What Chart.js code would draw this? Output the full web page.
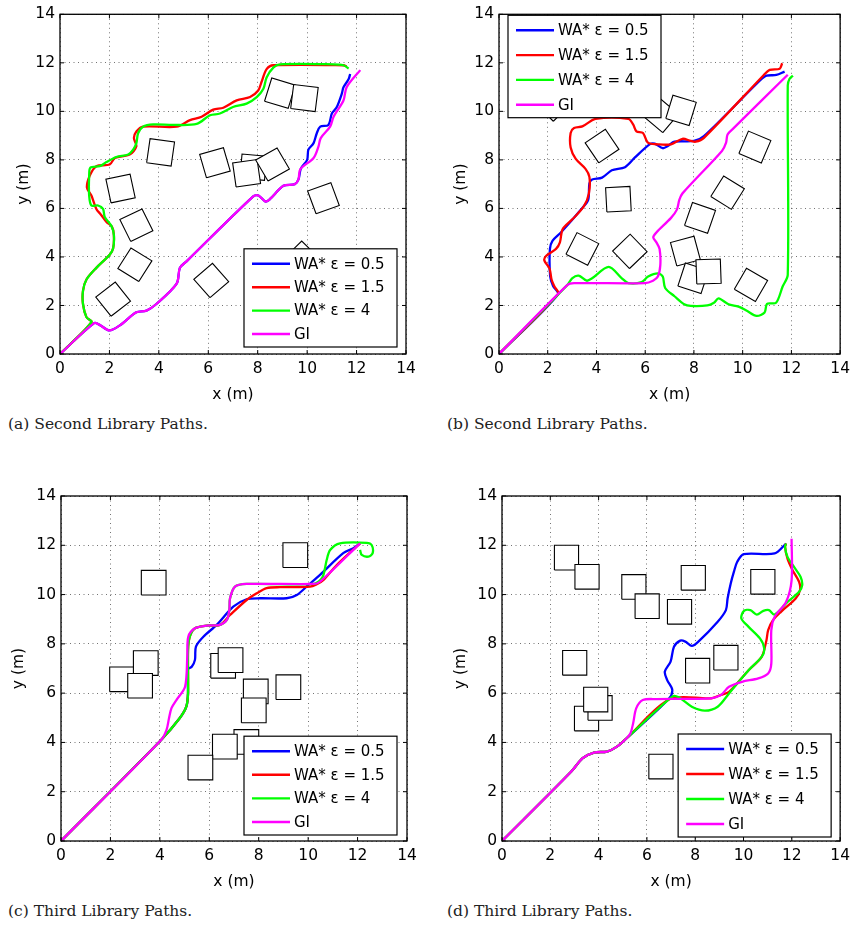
<!DOCTYPE html>
<html>
<head>
<meta charset="utf-8">
<script src="https://cdn.jsdelivr.net/npm/chart.js@4"></script>
<style>
  body { margin: 0; background: #fff; width: 856px; height: 928px; position: relative; overflow: hidden; }
  .panel { position: absolute; }
  .caption { position: absolute; font-family: "DejaVu Serif", "Liberation Serif", serif; font-size: 15.5px; color: #222; white-space: nowrap; }
</style>
</head>
<body>
<div class="panel" style="left:0px;top:0px"><canvas id="chart-a" width="428" height="405"></canvas></div>
<div class="panel" style="left:439px;top:0px"><canvas id="chart-b" width="417" height="405"></canvas></div>
<div class="panel" style="left:1px;top:480px"><canvas id="chart-c" width="427" height="412"></canvas></div>
<div class="panel" style="left:442px;top:480px"><canvas id="chart-d" width="414" height="412"></canvas></div>
<div class="caption" style="left:8px;top:415px">(a) Second Library Paths.</div>
<div class="caption" style="left:447px;top:415px">(b) Second Library Paths.</div>
<div class="caption" style="left:8px;top:902px">(c) Third Library Paths.</div>
<div class="caption" style="left:447px;top:902px">(d) Third Library Paths.</div>
<script>
// axis ticks (metres)
const tickValues = [0, 2, 4, 6, 8, 10, 12, 14]
const seriesLabels = ["WA* ε = 0.5", "WA* ε = 1.5", "WA* ε = 4", "GI"]
const seriesColors = ["#0000ff", "#ff0000", "#00ff00", "#ff00ff"]
const OBSTACLE_SIDE = 1

// (a) second library, map 1 -- paths as [x, y] in metres
const aBlue = [[0,0],[1.38,1.27],[1.6,1.2],[2.0,0.97],[2.42,1.18],[3.09,1.72],[3.5,1.79],[3.9,2.06],[4.72,2.9],[4.85,3.55],[5.12,3.82],[7.82,6.5],[8.03,6.53],[8.32,6.28],[8.5,6.39],[9.04,6.93],[9.5,7.0],[9.65,7.2],[9.75,7.65],[10.0,8.0],[10.05,8.42],[10.26,8.69],[10.39,9.1],[10.53,9.37],[10.86,9.44],[11.0,9.91],[11.2,10.18],[11.4,10.72],[11.47,10.99],[11.68,11.33],[11.74,11.54]]
const aRed = [[0,0],[1.27,1.31],[1.07,1.52],[0.93,2.06],[0.93,2.6],[1.07,3.07],[1.47,3.55],[2.01,4.09],[2.15,4.36],[2.18,4.9],[2.1,5.25],[1.88,5.44],[1.65,5.75],[1.47,5.98],[1.27,6.53],[1.09,6.86],[1.2,7.34],[1.47,7.74],[2.01,7.81],[2.22,8.08],[2.82,8.22],[3.09,8.56],[2.99,8.9],[3.09,9.17],[3.36,9.37],[4.72,9.37],[5.26,9.64],[5.73,9.78],[6.2,10.07],[6.61,10.15],[7.15,10.45],[7.69,10.59],[8.02,10.86],[8.15,11.2],[8.36,11.74],[8.64,11.9],[11.47,11.9],[11.6,11.85]]
const aGreen = [[0,0],[1.27,1.31],[1.07,1.52],[0.93,2.06],[0.93,2.6],[1.07,3.07],[1.47,3.55],[2.01,4.09],[2.15,4.36],[2.18,4.9],[2.08,5.28],[1.81,5.65],[1.74,5.98],[1.54,6.12],[1.27,6.12],[1.18,6.53],[1.18,7.34],[1.23,7.68],[1.61,7.74],[1.88,7.91],[2.28,8.12],[2.76,8.22],[2.96,8.42],[3.09,8.69],[3.16,9.1],[3.36,9.37],[3.77,9.46],[4.58,9.44],[5.53,9.48],[6.07,9.84],[6.47,9.91],[7.0,10.18],[7.55,10.32],[7.96,10.59],[8.23,10.93],[8.36,11.4],[8.64,11.81],[8.9,11.94],[11.07,11.94],[11.47,11.9],[11.68,11.77]]
const aGI = [[0,0],[1.38,1.27],[1.6,1.2],[2.0,0.97],[2.42,1.18],[3.09,1.72],[3.5,1.79],[3.9,2.06],[4.72,2.9],[4.85,3.55],[5.12,3.82],[7.82,6.5],[8.03,6.53],[8.32,6.28],[8.5,6.39],[9.04,6.93],[9.5,7.0],[9.65,7.2],[9.72,7.61],[10.26,8.08],[10.46,8.56],[10.55,8.9],[10.93,9.37],[11.07,9.78],[11.47,10.45],[11.6,11.0],[12.15,11.7]]
// obstacles: [centre x, centre y, rotation in degrees], back to front
const aObstacles = [[9.78,3.95,45],[2.15,2.26,38],[3.03,3.68,58],[3.09,5.31,26],[2.45,6.82,12],[4.07,8.31,-8],[6.27,7.88,16],[7.82,7.7,-5],[7.55,7.45,8],[8.6,7.81,30],[8.9,10.75,-17],[9.89,10.55,-7],[10.66,6.42,20],[6.12,3.03,41]]

// (b) second library, map 2
const bBlue = [[0,0],[2.42,2.45],[2.22,2.8],[2.1,3.2],[2.09,4.33],[2.2,4.67],[2.54,5.01],[3.42,6.02],[3.66,6.35],[3.71,7.03],[3.82,7.19],[4.23,7.27],[4.63,7.57],[5.17,7.7],[5.58,8.1],[6.18,8.64],[6.39,8.67],[6.72,8.48],[6.93,8.57],[7.2,8.75],[8.0,8.78],[8.41,8.98],[10.71,11.27],[10.98,11.47],[11.38,11.5],[11.72,11.64]]
const bRed = [[0,0],[2.43,2.48],[2.27,2.79],[2.16,3.06],[2.07,3.53],[1.86,3.86],[1.93,4.04],[2.34,4.33],[2.5,4.6],[2.61,5.14],[3.01,5.55],[3.48,6.08],[3.69,6.62],[3.71,7.3],[3.55,7.63],[3.15,8.04],[2.94,8.51],[2.94,9.11],[3.08,9.31],[3.42,9.38],[3.96,9.69],[5.31,9.69],[5.51,9.45],[5.64,9.18],[5.91,9.11],[6.11,8.71],[6.52,8.64],[7.06,8.64],[7.53,8.87],[7.87,8.78],[8.07,8.75],[8.41,8.91],[10.84,11.47],[11.11,11.71],[11.52,11.76],[11.62,11.98]]
const bGreen = [[0,0],[2.81,2.85],[3.0,3.12],[3.27,3.23],[3.6,3.02],[3.82,3.12],[4.5,3.59],[5.04,3.12],[5.31,2.92],[5.85,2.96],[6.12,3.19],[6.52,3.32],[6.72,3.19],[6.82,2.72],[7.2,2.38],[7.6,2.05],[7.87,1.98],[8.55,2.0],[8.82,2.11],[9.01,2.29],[9.42,2.05],[9.83,1.95],[10.17,1.78],[10.57,1.57],[10.9,1.71],[11.0,2.07],[11.37,2.11],[11.64,2.78],[11.85,3.26],[11.85,11.07],[11.92,11.33],[12.06,11.47]]
const bGI = [[0,0],[2.81,2.85],[3.08,2.92],[5.98,2.92],[6.32,3.02],[6.52,3.19],[6.62,3.66],[6.59,4.33],[6.46,4.6],[6.33,4.81],[6.46,5.01],[7.06,5.61],[7.3,5.95],[7.4,6.35],[7.53,6.62],[9.15,8.37],[9.32,8.71],[9.38,9.05],[9.63,9.31],[11.85,11.51]]
const bObstacles = [[2.23,10.3,45],[6.66,9.83,50],[7.47,10.04,-17],[4.23,8.57,34],[4.9,6.38,3],[3.42,4.33,-27],[5.37,4.23,44],[8.25,5.61,-19],[9.38,6.65,-32],[10.5,8.53,-23],[7.65,4.24,15],[7.97,3.12,-18],[8.6,3.4,2],[10.34,2.85,-30]]

// (c) third library, map 1
const cBlue = [[0,0],[4.05,4.1],[4.8,4.98],[5.07,5.45],[5.14,6.0],[5.12,6.95],[5.29,7.07],[5.42,7.35],[5.46,7.89],[5.76,8.29],[6.3,8.77],[6.97,9.51],[7.51,9.81],[8.05,9.85],[9.13,9.85],[9.54,9.98],[10.01,10.39],[10.48,10.8],[11.42,11.68],[11.83,11.88],[12.1,12.08]]
const cRed = [[0,0],[4.05,4.1],[4.8,4.98],[5.07,5.45],[5.14,6.0],[5.14,7.75],[5.21,8.29],[5.42,8.63],[5.9,8.74],[6.43,8.77],[6.84,9.17],[7.51,9.78],[7.92,10.05],[8.32,10.26],[8.86,10.3],[10.08,10.32],[10.35,10.42],[10.61,10.58],[11.15,11.19],[12.1,12.08]]
const cGreen = [[0,0],[4.05,4.1],[4.8,4.98],[5.07,5.45],[5.14,6.0],[5.14,7.75],[5.21,8.29],[5.42,8.63],[5.9,8.74],[6.43,8.77],[6.71,8.97],[6.81,9.38],[6.84,9.85],[7.04,10.32],[7.51,10.43],[10.21,10.43],[10.5,10.6],[10.62,10.8],[10.75,11.4],[10.89,11.81],[11.29,12.08],[12.37,12.1],[12.57,12.01],[12.61,11.68],[12.44,11.54],[12.17,11.61],[12.1,11.81]]
const cGI = [[0,0],[4.05,4.1],[4.27,4.51],[4.37,4.98],[4.47,5.39],[4.67,5.72],[5.02,6.26],[5.11,7.48],[5.15,8.29],[5.42,8.63],[5.9,8.74],[6.43,8.77],[6.71,8.97],[6.81,9.38],[6.84,9.85],[7.04,10.32],[7.51,10.43],[10.21,10.43],[10.48,10.52],[12.1,12.08]]
const cObstacles = [[3.75,10.48,0],[9.48,11.6,0],[2.47,6.56,0],[3.43,7.22,0],[3.2,6.3,0],[6.56,7.11,0],[6.86,7.34,0],[7.88,6.07,0],[7.8,5.3,0],[9.2,6.24,0],[7.5,4.02,0],[6.63,3.83,0],[5.64,2.98,0]]

// (d) third library, map 2
const dBlue = [[0,0],[2.87,2.82],[3.34,3.36],[3.81,3.59],[4.35,3.63],[4.76,3.83],[5.16,4.17],[6.9,5.76],[7.05,6.13],[6.84,6.53],[6.74,6.87],[6.98,7.28],[7.12,7.88],[7.38,8.13],[7.59,8.09],[7.86,7.92],[8.13,8.09],[8.93,8.9],[9.27,9.37],[9.34,9.84],[9.47,10.45],[9.6,10.92],[9.74,11.33],[10.01,11.64],[11.29,11.67],[11.76,12.07]]
const dRed = [[0,0],[2.87,2.82],[3.34,3.36],[3.81,3.59],[4.35,3.63],[4.76,3.83],[5.16,4.17],[6.95,5.76],[8.66,5.79],[9.07,5.93],[9.4,6.05],[10.21,6.93],[10.75,7.47],[10.95,8.15],[11.02,8.56],[11.22,8.96],[11.55,9.3],[12.16,9.84],[12.34,10.18],[12.3,10.52],[12.03,10.99],[11.82,11.46],[11.72,11.93],[11.76,12.07]]
const dGreen = [[0,0],[2.87,2.82],[3.34,3.36],[3.81,3.59],[4.35,3.63],[4.76,3.83],[5.16,4.17],[7.05,5.86],[7.32,5.83],[7.86,5.45],[8.4,5.29],[8.93,5.45],[9.4,5.99],[10.21,6.93],[10.75,7.47],[10.86,7.81],[10.68,8.22],[10.21,8.69],[9.91,9.03],[10.01,9.33],[10.28,9.37],[10.55,9.19],[10.82,9.34],[11.05,9.37],[11.29,9.19],[11.82,9.7],[12.3,10.11],[12.43,10.38],[12.36,10.72],[12.09,11.12],[11.82,11.53],[11.72,11.93],[11.76,12.07]]
const dGI = [[0,0],[2.87,2.82],[3.34,3.36],[3.81,3.59],[4.35,3.63],[4.76,3.83],[5.16,4.17],[5.32,4.37],[5.43,4.78],[5.56,5.39],[5.83,5.72],[6.37,5.76],[8.66,5.79],[9.07,5.93],[9.4,6.26],[9.94,6.46],[10.61,6.6],[11.02,6.8],[11.15,7.2],[11.15,8.56],[11.29,9.1],[11.76,9.7],[11.99,10.58],[11.99,12.27]]
const dObstacles = [[2.67,11.5,0],[3.52,10.72,0],[5.46,10.31,0],[6.01,9.53,0],[7.92,10.68,0],[7.35,9.3,0],[10.8,10.52,0],[3.01,7.23,0],[9.27,7.44,0],[8.1,6.91,0],[3.5,4.97,0],[4.06,5.4,0],[3.88,5.74,0],[6.58,3.02,0]]

const FONT = "'DejaVu Sans', 'Liberation Sans', Arial, sans-serif"

const toPoints = (arr) => arr.map(([x, y]) => ({ x, y }))

function squareCorners([cx, cy, deg]) {
    const r = deg * Math.PI / 180
    const h = OBSTACLE_SIDE / 2
    const c = Math.cos(r), s = Math.sin(r)
    return [[-h, -h], [h, -h], [h, h], [-h, h], [-h, -h]]
        .map(([u, v]) => ({ x: cx + u * c - v * s, y: cy + u * s + v * c }))
}

// box, inward tick marks and the legend drawn inside the axes
const framePlugin = {
    id: "frame",
    afterDatasetsDraw(chart) {
        const { ctx, chartArea: a, scales: { x, y } } = chart
        ctx.save()
        ctx.strokeStyle = "#000"
        ctx.lineWidth = 1
        ctx.beginPath()
        tickValues.forEach(v => {
            const px = x.getPixelForValue(v)
            const py = y.getPixelForValue(v)
            ctx.moveTo(px, a.bottom); ctx.lineTo(px, a.bottom - 4)
            ctx.moveTo(px, a.top); ctx.lineTo(px, a.top + 4)
            ctx.moveTo(a.left, py); ctx.lineTo(a.left + 4, py)
            ctx.moveTo(a.right, py); ctx.lineTo(a.right - 4, py)
        })
        ctx.stroke()
        ctx.lineWidth = 1.3
        ctx.strokeRect(a.left, a.top, a.right - a.left, a.bottom - a.top)
        ctx.restore()
    },
    afterDraw(chart, args, opts) {
        const { ctx, chartArea: a } = chart
        const w = 153
        const h = 28 + 3 * opts.gap
        const left = opts.corner === "tl" ? a.left + opts.dx : a.right - opts.dx - w
        const top = opts.corner === "tl" ? a.top + opts.dy : a.bottom - opts.dy - h
        ctx.save()
        ctx.fillStyle = "#fff"
        ctx.fillRect(left, top, w, h)
        ctx.strokeStyle = "#000"
        ctx.lineWidth = 1.2
        ctx.strokeRect(left, top, w, h)
        ctx.font = "15px " + FONT
        ctx.textBaseline = "middle"
        ctx.fillStyle = "#000"
        seriesLabels.forEach((label, i) => {
            const rowY = top + 15 + i * opts.gap
            ctx.strokeStyle = seriesColors[i]
            ctx.lineWidth = 2.4
            ctx.beginPath()
            ctx.moveTo(left + 8, rowY)
            ctx.lineTo(left + 46, rowY)
            ctx.stroke()
            ctx.fillText(label, left + 50, rowY + 1)
        })
        ctx.restore()
    }
}

function makeChart(canvasId, paths, obstacles, panel) {
    const pathSets = paths.map((p, i) => ({
        label: seriesLabels[i],
        data: toPoints(p),
        borderColor: seriesColors[i],
        borderWidth: 2.3,
        tension: 0.3,
        pointRadius: 0,
        fill: false,
        order: 3 - i
    }))
    const obstacleSets = obstacles.map((o, i) => ({
        label: "obstacle",
        data: squareCorners(o),
        borderColor: "#000",
        borderWidth: 1.1,
        backgroundColor: "#fff",
        fill: "shape",
        tension: 0,
        pointRadius: 0,
        order: 100 - i
    }))

    const axisFont = { family: FONT, size: 15.5 }

    return new Chart(document.getElementById(canvasId), {
        type: "line",
        data: { datasets: [...pathSets, ...obstacleSets] },
        options: {
            responsive: false,
            animation: false,
            devicePixelRatio: 1,
            layout: { padding: { top: panel.top, right: panel.right, left: 0, bottom: 0 } },
            plugins: {
                legend: { display: false },
                tooltip: { enabled: false },
                frame: panel.legend
            },
            scales: {
                x: {
                    type: "linear",
                    min: 0, max: 14,
                    afterFit: (scale) => { scale.height = 51 },
                    afterBuildTicks: (scale) => { scale.ticks = tickValues.map(v => ({ value: v })) },
                    ticks: { padding: 6, color: "#000", font: axisFont },
                    grid: { color: "rgba(0,0,0,0.55)", lineWidth: 1, drawTicks: false },
                    border: { display: false, dash: [1, 3.5] },
                    title: { display: true, text: "x (m)", color: "#000", font: axisFont, padding: { top: 0, bottom: 1 } }
                },
                y: {
                    type: "linear",
                    min: 0, max: 14,
                    afterFit: (scale) => { scale.width = 60 },
                    afterBuildTicks: (scale) => { scale.ticks = tickValues.map(v => ({ value: v })) },
                    ticks: { padding: 5, color: "#000", font: axisFont },
                    grid: { color: "rgba(0,0,0,0.55)", lineWidth: 1, drawTicks: false },
                    border: { display: false, dash: [1, 3.5] },
                    title: { display: true, text: "y (m)", color: "#000", font: axisFont, padding: { top: panel.yTitle, bottom: 0 } }
                }
            }
        },
        plugins: [framePlugin]
    })
}

makeChart("chart-a", [aBlue, aRed, aGreen, aGI], aObstacles,
    { top: 9, right: 22, yTitle: 15, legend: { corner: "br", dx: 9, dy: 7, gap: 23.4 } })
makeChart("chart-b", [bBlue, bRed, bGreen, bGI], bObstacles,
    { top: 7, right: 11, yTitle: 13, legend: { corner: "tl", dx: 9, dy: 1, gap: 24.8 } })
makeChart("chart-c", [cBlue, cRed, cGreen, cGI], cObstacles,
    { top: 16, right: 21, yTitle: 9, legend: { corner: "br", dx: 10, dy: 6, gap: 23.6 } })
makeChart("chart-d", [dBlue, dRed, dGreen, dGI], dObstacles,
    { top: 16, right: 7, yTitle: 10, legend: { corner: "br", dx: 9, dy: 4, gap: 25 } })
</script>
</body>
</html>
